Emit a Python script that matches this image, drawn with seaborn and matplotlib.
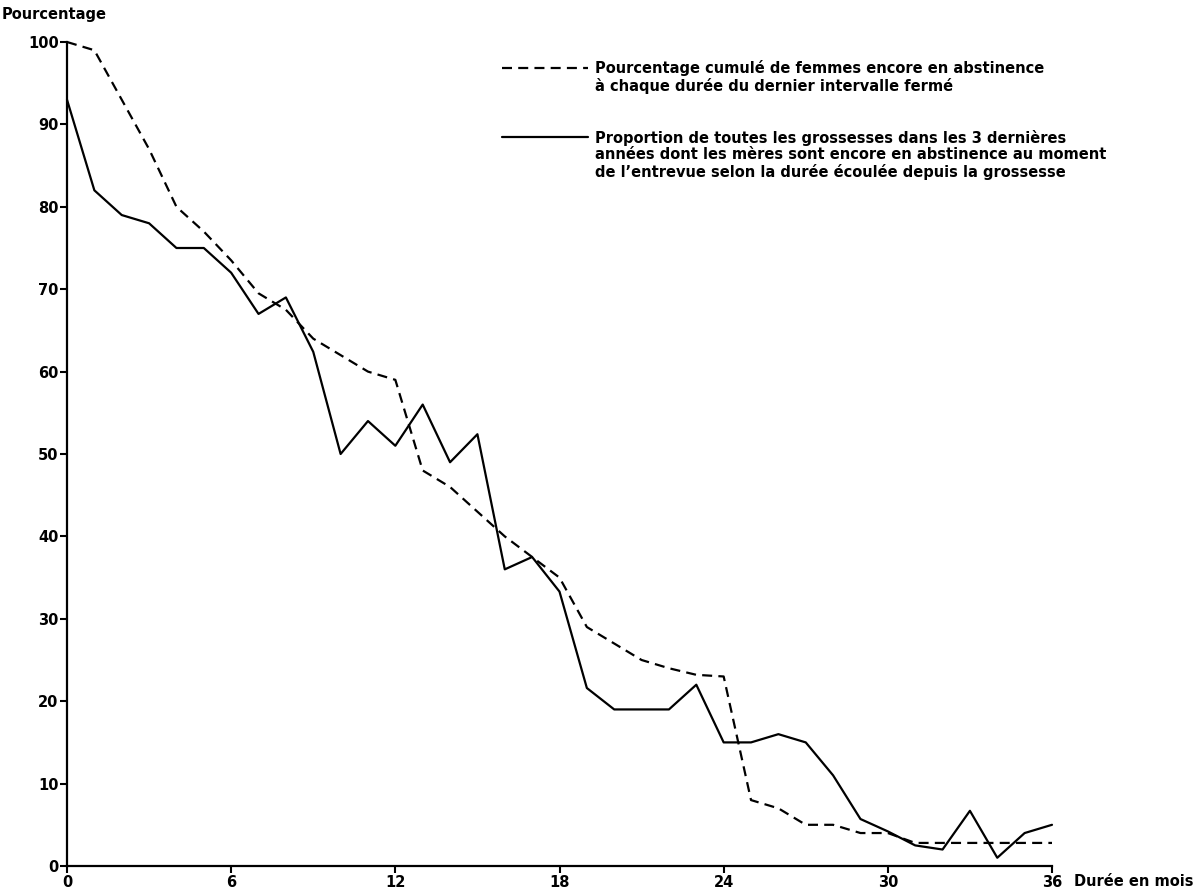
import pandas as pd
import matplotlib.pyplot as plt
import seaborn as sns
from matplotlib.lines import Line2D

# Durée en mois depuis la grossesse (0 à 36)
mois = list(range(37))

# Pourcentage cumulé de femmes encore en abstinence (courbe en tirets)
cumule = [100, 99, 93, 87, 80, 77, 73.5, 69.5, 67.5, 64,
          62, 60, 59, 48, 46, 43, 40, 37.5, 35, 29,
          27, 25, 24, 23.2, 23, 8, 7, 5, 5, 4,
          4, 2.8, 2.8, 2.8, 2.8, 2.8, 2.8]

# Proportion des grossesses dont les mères sont encore en abstinence (courbe pleine)
proportion = [93, 82, 79, 78, 75, 75, 72, 67, 69, 62.4,
              50, 54, 51, 56, 49, 52.4, 36, 37.5, 33.3, 21.6,
              19, 19, 19, 22, 15, 15, 16, 15, 11, 5.7,
              4.2, 2.5, 2, 6.7, 1, 4, 5]

ticks_x = [0, 6, 12, 18, 24, 30, 36]
ticks_y = [0, 10, 20, 30, 40, 50, 60, 70, 80, 90, 100]

legende_tirets = ["Pourcentage cumulé de femmes encore en abstinence",
                  "à chaque durée du dernier intervalle fermé"]
legende_pleine = ["Proportion de toutes les grossesses dans les 3 dernières",
                  "années dont les mères sont encore en abstinence au moment",
                  "de l’entrevue selon la durée écoulée depuis la grossesse"]

# Tableau long pour seaborn
df = pd.DataFrame({
    'mois': mois + mois,
    'pct': cumule + proportion,
    'serie': ['cumule'] * len(mois) + ['proportion'] * len(mois),
})

sns.set_style("ticks")
plt.rcParams['font.family'] = ['DejaVu Sans']
plt.rcParams['font.weight'] = 'bold'
plt.rcParams['text.color'] = 'black'
plt.rcParams['axes.labelcolor'] = 'black'

taille = 10.5
tirets = (4.5, 2.8)

fig = plt.figure(figsize=(12.03, 8.93), dpi=100)
ax = fig.add_axes([67 / 1203, 27 / 893, 985 / 1203, 824 / 893])

sns.lineplot(data=df, x='mois', y='pct', style='serie',
             style_order=['cumule', 'proportion'],
             dashes={'cumule': tirets, 'proportion': ''},
             color='black', linewidth=1.6, legend=False, ax=ax, clip_on=False)

ax.set_xlim(0, 36)
ax.set_ylim(0, 100)
ax.set_xticks(ticks_x)
ax.set_yticks(ticks_y)
sns.despine(ax=ax)
for s in ['left', 'bottom']:
    ax.spines[s].set_linewidth(1.6)
    ax.spines[s].set_color('black')
ax.tick_params(axis='both', direction='out', length=5, width=1.5,
               labelsize=taille, color='black', labelcolor='black')
ax.tick_params(axis='y', pad=1)
ax.tick_params(axis='x', pad=1.5)

# Titres des axes
ax.set_ylabel('Pourcentage', rotation=0, ha='left', va='center',
              fontsize=taille, fontweight='bold')
ax.yaxis.set_label_coords(-0.066, 1.033)
ax.set_xlabel('Durée en mois', ha='left', va='top',
              fontsize=taille, fontweight='bold')
ax.xaxis.set_label_coords(1.022, -0.0092)

# Légende: une ligne de texte par entrée, poignées vides pour la suite
vide = Line2D([], [], color='none')
poignees = [Line2D([], [], color='black', lw=1.6, dashes=tirets), vide, vide, vide,
            Line2D([], [], color='black', lw=1.6), vide, vide]
textes = [legende_tirets[0], legende_tirets[1], '', '',
          legende_pleine[0], legende_pleine[1], legende_pleine[2]]
ax.legend(poignees, textes, loc='upper left', bbox_to_anchor=(502 / 1203, 1 - 60 / 893),
          bbox_transform=fig.transFigure, frameon=False, borderpad=0, borderaxespad=0,
          handlelength=5.9, handletextpad=0.5, labelspacing=0.13, fontsize=taille)

fig.savefig('out.png', dpi=100)
